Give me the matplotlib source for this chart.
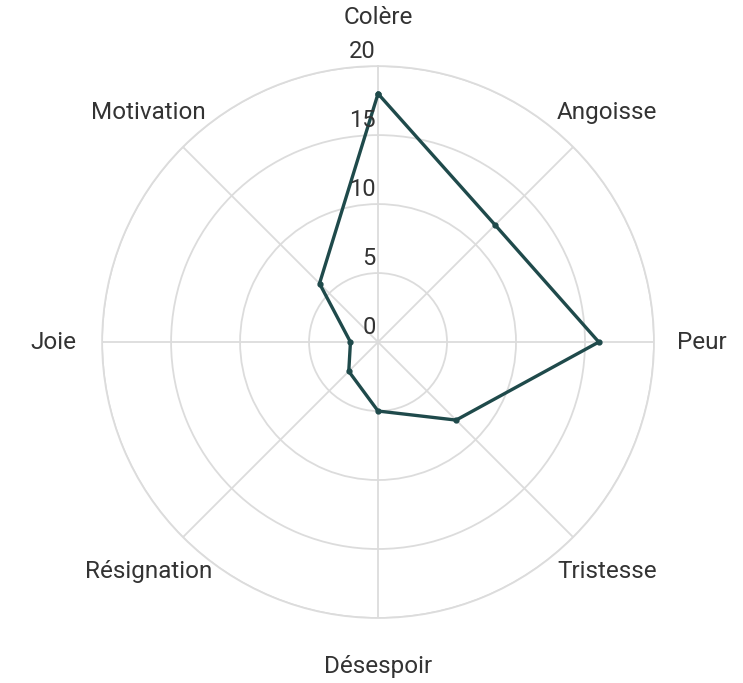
import numpy as np
import matplotlib.pyplot as plt
from matplotlib.transforms import offset_copy

plt.rcParams['font.family'] = ['Roboto', 'DejaVu Sans']

# Data
categories = ["Colère", "Angoisse", "Peur", "Tristesse",
              "Désespoir", "Résignation", "Joie", "Motivation"]
values = [18, 12, 16, 8, 5, 3, 2, 6]
r_ticks = [0, 5, 10, 15, 20]

line_color = '#1f4a4b'
grid_color = '#dcdcdc'
text_color = '#333333'

fig = plt.figure(figsize=(7.43, 6.83), dpi=100)
ax = fig.add_axes([0.1373, 0.0952, 0.743, 0.808], projection='polar')
ax.set_theta_zero_location('N')
ax.set_theta_direction(-1)

angles = np.arange(len(categories)) * 2 * np.pi / len(categories)
closed_angles = np.append(angles, angles[0])
closed_values = np.append(values, values[0])

ax.plot(closed_angles, closed_values, color=line_color, lw=2.4,
        marker='o', markersize=3.5, zorder=3)

ax.set_ylim(0, 20)
ax.set_yticks(r_ticks)
ax.set_yticklabels([])
ax.set_xticks(angles)
ax.set_xticklabels([])
ax.grid(True, color=grid_color, lw=1.3)
ax.spines['polar'].set_color(grid_color)
ax.spines['polar'].set_linewidth(1.3)
ax.tick_params(length=0)

# radial tick labels, just left of the top spoke and above each ring
trans = offset_copy(ax.transData, fig=fig, x=-2, y=15, units='dots')
for t in r_ticks:
    ax.text(0, t, str(t), transform=trans, ha='right', va='center',
            fontsize=17, color=text_color, clip_on=False)

# category labels outside the outer ring
for ang, name in zip(angles, categories):
    ax.text(ang, 23.5, name, ha='center', va='center', fontsize=17.5,
            color=text_color, clip_on=False)

fig.savefig('out.png', dpi=100, facecolor='white')
